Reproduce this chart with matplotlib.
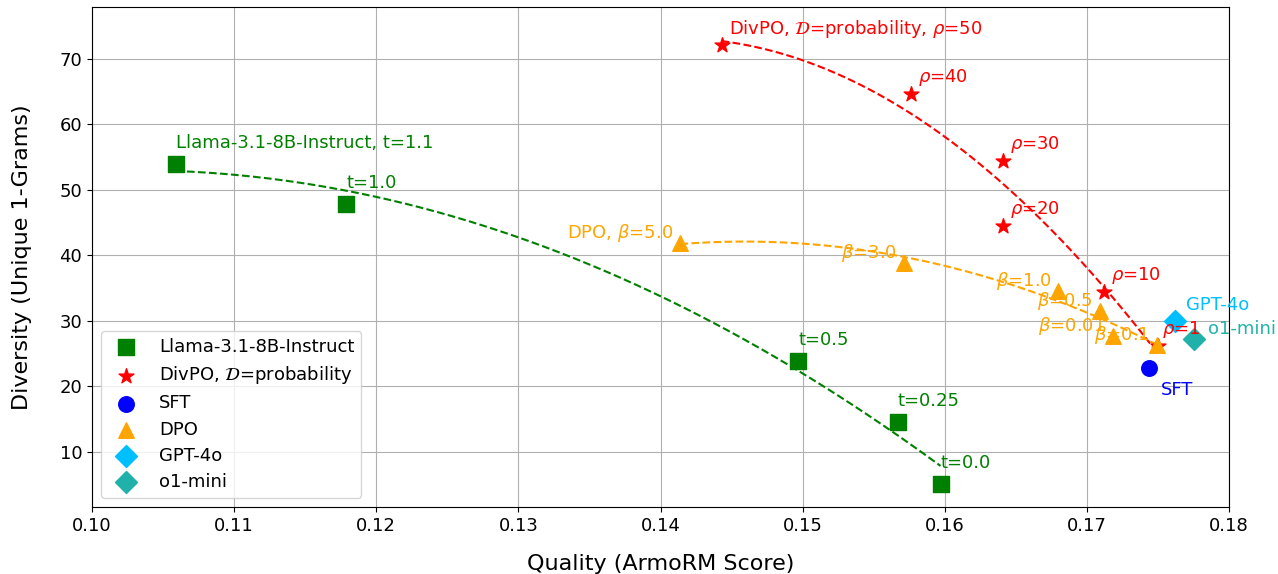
import numpy as np
import matplotlib.pyplot as plt

llama_x = [0.1059, 0.1179, 0.1497, 0.1567, 0.1597]
llama_y = [54.0, 47.9, 23.9, 14.6, 5.1]
llama_lab = ['Llama-3.1-8B-Instruct, t=1.1', 't=1.0', 't=0.5', 't=0.25', 't=0.0']

divpo_x = [0.1443, 0.1576, 0.1641, 0.1641, 0.1712, 0.1750]
divpo_y = [72.1, 64.7, 54.4, 44.5, 34.4, 26.2]
divpo_lab = [r'DivPO, $\mathcal{D}$=probability, $\rho$=50', r'$\rho$=40', r'$\rho$=30',
             r'$\rho$=20', r'$\rho$=10', r'$\rho$=1']

dpo_x = [0.1414, 0.1571, 0.1680, 0.1709, 0.1718, 0.1749]
dpo_y = [41.9, 38.9, 34.6, 31.5, 27.7, 26.3]
dpo_lab = [r'DPO, $\beta$=5.0', r'$\beta$=3.0', r'$\beta$=1.0', r'$\beta$=0.5',
           r'$\beta$=0.01', r'$\beta$=0.1']

sft = (0.1744, 22.8)
gpt4o = (0.1762, 30.0)
o1mini = (0.1775, 27.3)

plt.rcParams['font.size'] = 13
fig = plt.figure(figsize=(12.78, 5.74), dpi=100)
ax = fig.add_axes([0.072, 0.1167, 0.8897, 0.8711])

ms = 125
ax.scatter(llama_x, llama_y, marker='s', s=ms, color='green', label='Llama-3.1-8B-Instruct', zorder=3)
ax.scatter(divpo_x, divpo_y, marker='*', s=ms, color='red', label=r'DivPO, $\mathcal{D}$=probability', zorder=3)
ax.scatter(*sft, marker='o', s=ms, color='blue', label='SFT', zorder=3)
ax.scatter(dpo_x, dpo_y, marker='^', s=ms, color='orange', label='DPO', zorder=3)
ax.scatter(*gpt4o, marker='D', s=ms, color='deepskyblue', label='GPT-4o', zorder=3)
ax.scatter(*o1mini, marker='D', s=ms, color='lightseagreen', label='o1-mini', zorder=3)

# quadratic fits
for xs, ys, c in [(llama_x, llama_y, 'green'), (divpo_x, divpo_y, 'red'), (dpo_x, dpo_y, 'orange')]:
    p = np.polyfit(xs, ys, 2)
    xx = np.linspace(min(xs), max(xs), 200)
    ax.plot(xx, np.polyval(p, xx), '--', color=c, lw=1.5, zorder=2)

for x, y, t in zip(llama_x, llama_y, llama_lab):
    ax.text(x, y + 1.8, t, color='green', ha='left', va='bottom')
for i, (x, y, t) in enumerate(zip(divpo_x, divpo_y, divpo_lab)):
    dx = 0.0003 if i == len(divpo_x) - 1 else 0.0005
    ax.text(x + dx, y + 2.5, t, color='red', ha='left', va='center')
for x, y, t in zip(dpo_x, dpo_y, dpo_lab):
    ax.text(x - 0.0005, y + 1.5, t, color='orange', ha='right', va='center')
ax.text(sft[0] + 0.0008, sft[1] - 3.3, 'SFT', color='blue', ha='left', va='center')
ax.text(gpt4o[0] + 0.0008, gpt4o[1] + 2.4, 'GPT-4o', color='deepskyblue', ha='left', va='center')
ax.text(o1mini[0] + 0.0010, o1mini[1] + 1.4, 'o1-mini', color='lightseagreen', ha='left', va='center')

ax.set_xlim(0.10, 0.18)
ax.set_ylim(1.6, 77.9)
ax.set_xticks(np.arange(0.10, 0.181, 0.01))
ax.xaxis.set_major_formatter(plt.FormatStrFormatter('%.2f'))
ax.grid(True, color='#b0b0b0', lw=0.8)
ax.set_axisbelow(True)
ax.set_xlabel('Quality (ArmoRM Score)', fontsize=16, labelpad=14)
ax.set_ylabel('Diversity (Unique 1-Grams)', fontsize=16, labelpad=20)
ax.legend(loc='lower left', labelspacing=0.45)

fig.savefig('out.png', dpi=100)
